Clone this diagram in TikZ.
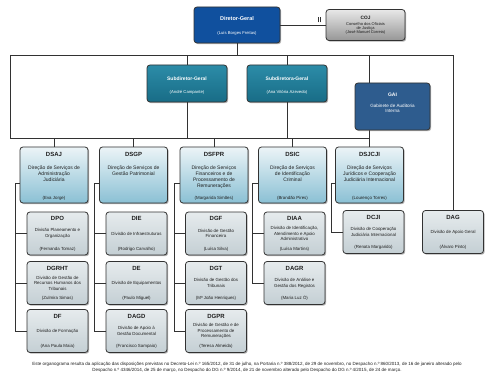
\documentclass[tikz,border=0pt]{standalone}
\usepackage{fontspec}
\setmainfont{Liberation Sans}
\usetikzlibrary{shadows}
\definecolor{dgblue}{RGB}{16,80,158}
\definecolor{tealtop}{RGB}{44,140,168}
\definecolor{tealbot}{RGB}{24,108,134}
\definecolor{gaiblue}{RGB}{46,92,142}
\definecolor{dirtop}{RGB}{236,244,247}
\definecolor{dirbot}{RGB}{138,192,212}
\definecolor{divtop}{RGB}{230,235,237}
\definecolor{divbot}{RGB}{196,207,212}
\definecolor{cojtop}{RGB}{232,232,232}
\definecolor{cojbot}{RGB}{150,150,150}
\definecolor{linec}{RGB}{50,50,50}
\definecolor{txt}{RGB}{30,30,30}
\tikzset{
  box/.style={draw=linec, line width=0.8pt, rounded corners=3pt, inner sep=0pt,
    drop shadow={shadow xshift=1.2pt, shadow yshift=-1.2pt, fill=black!60, opacity=0.5}},
  dgbox/.style={box, fill=dgblue, minimum width=86pt, minimum height=36pt},
  cojbox/.style={box, top color=cojtop, bottom color=cojbot, minimum width=79pt, minimum height=31pt},
  sdbox/.style={box, top color=tealtop, bottom color=tealbot, minimum width=80pt, minimum height=37pt},
  gaibox/.style={box, fill=gaiblue, minimum width=75pt, minimum height=47pt},
  dirbox/.style={box, top color=dirtop, bottom color=dirbot, minimum width=68pt, minimum height=56pt},
  divbox/.style={box, top color=divtop, bottom color=divbot, minimum width=61pt, minimum height=43pt},
  conn/.style={draw=linec, line width=0.7pt},
  ttl/.style={inner sep=0pt, font=\fontsize{5.5}{6.5}\selectfont\bfseries},
  sml/.style={inner sep=0pt, align=center, font=\fontsize{4.2}{5.2}\selectfont},
  abbrtxt/.style={inner sep=0pt, text=txt, font=\fontsize{6}{7}\selectfont\bfseries},
  desctxt/.style={inner sep=0pt, text=txt, align=center, font=\fontsize{4.4}{5.5}\selectfont},
  dirdesc/.style={inner sep=0pt, text=txt, align=center, font=\fontsize{5}{6}\selectfont},
  nametxt/.style={inner sep=0pt, text=txt, font=\fontsize{4.4}{5.5}\selectfont},
}
\newcommand\mkdiv[6]{%
  \node[divbox] (#1) at (#2,#3) {};
  \node[abbrtxt] (#1-a) at ([yshift=-7pt]#1.north) {#4};
  \node[desctxt] (#1-d) at ([yshift=-22pt]#1.north) {#5};
  \node[nametxt] (#1-p) at ([yshift=6.5pt]#1.south) {#6};
}
\newcommand\mkdir[6]{%
  \node[dirbox] (#1) at (#2,#3) {};
  \node[abbrtxt] (#1-a) at ([yshift=-8pt]#1.north) {#4};
  \node[dirdesc, anchor=north] (#1-d) at ([yshift=-19pt]#1.north) {#5};
  \node[nametxt] (#1-p) at ([yshift=5.5pt]#1.south) {#6};
}
\begin{document}
\begin{tikzpicture}[x=1pt,y=-1pt]
\fill[white] (0,0) rectangle (500,382);
\useasboundingbox (0,0) rectangle (500,382);

% bus coordinates
\coordinate (tl) at (10,55);
\coordinate (tr) at (454,55);
\coordinate (ml) at (10,138);

% top-level
\node[dgbox] (dg) at (237,25) {};
\node[ttl, text=white] (dg-a) at ([yshift=-12pt]dg.north) {Diretor-Geral};
\node[sml, text=white] (dg-p) at ([yshift=10pt]dg.south) {(Luís Borges Freitas)};

\node[cojbox] (coj) at (365.5,25) {};
\node[abbrtxt, font=\fontsize{4.8}{5.5}\selectfont\bfseries] (coj-a) at ([yshift=-9pt]coj.north) {COJ};
\node[sml, text=txt, font=\fontsize{4}{4.4}\selectfont, anchor=north] (coj-d) at ([yshift=-13pt]coj.north) {Conselho dos Oficiais\\de Justiça\\(José Manuel Correia)};

\node[sdbox] (sd1) at (187,83.5) {};
\node[ttl, text=white, font=\fontsize{5}{6}\selectfont\bfseries] (sd1-a) at ([yshift=-14pt]sd1.north) {Subdiretor-Geral};
\node[sml, text=white] (sd1-p) at ([yshift=10pt]sd1.south) {(André Campante)};

\node[sdbox] (sd2) at (287,83.5) {};
\node[ttl, text=white, font=\fontsize{5}{6}\selectfont\bfseries] (sd2-a) at ([yshift=-14pt]sd2.north) {Subdiretora-Geral};
\node[sml, text=white] (sd2-p) at ([yshift=10pt]sd2.south) {(Ana Vitória Azevedo)};

% connectors top
\draw[conn] (dg.east) -- (coj.west);
\draw[conn] ([xshift=-7pt,yshift=2.5pt]coj.west) -- ++(0,-5);
\draw[conn] ([xshift=-5pt,yshift=2.5pt]coj.west) -- ++(0,-5);
\draw[conn] (tl) -- (tr);
\draw[conn] (dg.south) -- (dg.south |- tl);
\draw[conn] (tl) -- (ml);
\draw[conn] (sd1.north) -- (sd1.north |- tl);
\draw[conn] (sd2.north) -- (sd2.north |- tl);

% direções
\mkdir{dsaj}{54}{175}{DSAJ}{Direção de Serviços de\\Administração\\Judiciária}{(Eva Jorge)}
\mkdir{dsgp}{133.5}{175}{DSGP}{Direção de Serviços de\\Gestão Patrimonial}{}
\mkdir{dsfpr}{214}{175}{DSFPR}{Direção de Serviços\\Financeiros  e de\\Processamento de\\Remunerações}{(Margarida Simões)}
\mkdir{dsic}{292.5}{175}{DSIC}{Direção de Serviços\\de Identificação\\Criminal}{(Brandão Pires)}
\mkdir{dsjcji}{369.5}{175}{DSJCJI}{Direção de Serviços\\Jurídicos e Cooperação\\Judiciária Internacional}{(Lourenço Torres)}

\coordinate (mr) at (dsjcji.north |- ml);
\draw[conn] (ml) -- (mr);
\draw[conn] (sd1.south) -- (sd1.south |- ml);
\draw[conn] (sd2.south) -- (sd2.south |- ml);
\draw[conn] (mr) -- (mr |- tl);
\foreach \d in {dsaj,dsgp,dsfpr,dsic,dsjcji} \draw[conn] (\d.north) -- (\d.north |- ml);

% GAI (over the line)
\node[gaibox] (gai) at (392.5,106.5) {};
\node[ttl, text=white, font=\fontsize{5}{6}\selectfont\bfseries] (gai-a) at ([yshift=-12pt]gai.north) {GAI};
\node[sml, text=white, font=\fontsize{4.6}{5.6}\selectfont, anchor=north] (gai-d) at ([yshift=-21pt]gai.north) {Gabinete de Auditoria\\Interna};

% divisões
\mkdiv{dpo}{57.5}{233.5}{DPO}{Divisão Planeamento e\\Organização}{(Fernanda Tomaz)}
\mkdiv{dgrht}{57.5}{283}{DGRHT}{Divisão de Gestão de\\Recursos Humanos dos\\Tribunais}{(Zulmira Simas)}
\mkdiv{df}{57.5}{331}{DF}{Divisão de Formação}{(Ana Paula Maia)}

\mkdiv{die}{136.5}{233.5}{DIE}{Divisão de Infraestruturas}{(Rodrigo Carvalho)}
\mkdiv{de}{136.5}{283}{DE}{Divisão de Equipamentos}{(Paulo Miguel)}
\mkdiv{dagd}{136.5}{331}{DAGD}{Divisão de Apoio à\\Gestão Documental}{(Francisco Sampaio)}

\mkdiv{dgf}{216}{233.5}{DGF}{Divisão de Gestão\\Financeira}{(Luísa Silva)}
\mkdiv{dgt}{216}{283}{DGT}{Divisão de Gestão dos\\Tribunais}{(Mª João Henriques)}
\mkdiv{dgpr}{216}{331}{DGPR}{Divisão de Gestão e de\\Processamento de\\Remunerações}{(Teresa Almeida)}

\mkdiv{diaa}{294.5}{233.5}{DIAA}{Divisão de Identificação,\\Atendimento e Apoio\\Administrativo}{(Luísa Martins)}
\mkdiv{dagr}{294.5}{283}{DAGR}{Divisão de Análise e\\Gestão dos Registos}{(Maria Luz Ó)}

\mkdiv{dcji}{373.5}{232}{DCJI}{Divisão de Cooperação\\Judiciária Internacional}{(Renata Margarido)}
\mkdiv{dag}{453}{232}{DAG}{Divisão de Apoio Geral}{(Álvaro Pinto)}

% child connectors
\draw[conn] ([yshift=-8pt]dsaj.west) -| ([xshift=-11pt]df.west) -- (df.west);
\draw[conn] ([xshift=-11pt]dpo.west) -- (dpo.west);
\draw[conn] ([xshift=-11pt]dgrht.west) -- (dgrht.west);

\draw[conn] ([yshift=-8pt]dsgp.west) -| ([xshift=-11pt]dagd.west) -- (dagd.west);
\draw[conn] ([xshift=-11pt]die.west) -- (die.west);
\draw[conn] ([xshift=-11pt]de.west) -- (de.west);

\draw[conn] ([yshift=-8pt]dsfpr.west) -| ([xshift=-11pt]dgpr.west) -- (dgpr.west);
\draw[conn] ([xshift=-11pt]dgf.west) -- (dgf.west);
\draw[conn] ([xshift=-11pt]dgt.west) -- (dgt.west);

\draw[conn] ([yshift=-8pt]dsic.west) -| ([xshift=-11pt]dagr.west) -- (dagr.west);
\draw[conn] ([xshift=-11pt]diaa.west) -- (diaa.west);

\draw[conn] ([yshift=-8pt]dsjcji.west) -| ([xshift=-11pt]dcji.west) -- (dcji.west);

\draw[conn] (dag.north) -- (dag.north |- tr);

% footer
\node[inner sep=0pt, align=center, text=txt, font=\fontsize{4.5}{5.8}\selectfont] (foot) at (247,367) {Este organograma resulta da aplicação das disposições previstas no Decreto-Lei n.º 165/2012, de 31 de julho, na Portaria n.º 388/2012, de 29 de novembro, no Despacho n.º 860/2013, de 16 de janeiro alterado pelo\\Despacho n.º 4346/2014, de 25 de março, no Despacho do DG n.º 9/2014, de 21 de novembro alterado pelo Despacho do DG n.º 4/2015, de 24 de março.};
\end{tikzpicture}
\end{document}
